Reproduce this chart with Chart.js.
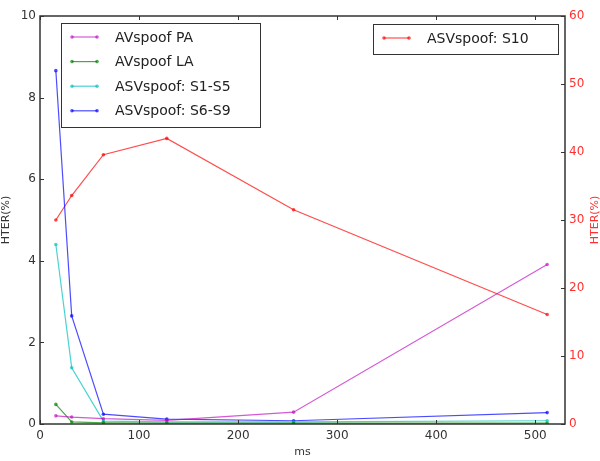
<!DOCTYPE html>
<html>
<head>
<meta charset="utf-8">
<script src="https://cdn.jsdelivr.net/npm/chart.js@4/dist/chart.umd.min.js"></script>
<style>
  html, body { margin: 0; padding: 0; background: #fff; }
  #wrap { width: 600px; height: 461px; }
</style>
</head>
<body>
<div id="wrap"><canvas id="chart"></canvas></div>
<script>
// window lengths (ms)
const windowMs = [16, 32, 64, 128, 256, 512];

// HTER (%) per attack set, left axis
const avspoofPA = [0.20, 0.17, 0.13, 0.09, 0.29, 3.91];
const avspoofLA = [0.48, 0.05, 0.03, 0.02, 0.02, 0.02];
const asvS1S5 = [4.40, 1.38, 0.07, 0.05, 0.05, 0.08];
const asvS6S9 = [8.66, 2.65, 0.24, 0.12, 0.08, 0.28];

// HTER (%) for S10, right axis
const asvS10 = [30.0, 33.6, 39.6, 42.0, 31.5, 16.1];

const xTicks = [0, 100, 200, 300, 400, 500];
const leftTicks = [0, 2, 4, 6, 8, 10];
const rightTicks = [0, 10, 20, 30, 40, 50, 60];

const FONT = "'DejaVu Sans', sans-serif";

function pts(ys) {
    return windowMs.map((x, i) => ({ x: x, y: ys[i] }));
}

function series(label, ys, color, axis) {
    return {
        label: label,
        data: pts(ys),
        borderColor: color,
        backgroundColor: color,
        borderWidth: 1.2,
        pointRadius: 1.8,
        pointBorderWidth: 0,
        yAxisID: axis,
        tension: 0
    };
}

// frame, inward ticks, right axis title and the two legend boxes
const decor = {
    id: "decor",
    afterDraw(chart) {
        const ctx = chart.ctx;
        const a = chart.chartArea;
        const sx = chart.scales.x, sy = chart.scales.y, sy2 = chart.scales.y2;
        ctx.save();
        ctx.strokeStyle = "#333";
        ctx.lineWidth = 1;
        // ticks
        ctx.beginPath();
        xTicks.forEach(v => {
            const px = Math.round(sx.getPixelForValue(v)) + 0.5;
            ctx.moveTo(px, a.bottom); ctx.lineTo(px, a.bottom - 4);
            ctx.moveTo(px, a.top); ctx.lineTo(px, a.top + 4);
        });
        leftTicks.forEach(v => {
            const py = Math.round(sy.getPixelForValue(v)) + 0.5;
            ctx.moveTo(a.left, py); ctx.lineTo(a.left + 4, py);
        });
        rightTicks.forEach(v => {
            const py = Math.round(sy2.getPixelForValue(v)) + 0.5;
            ctx.moveTo(a.right, py); ctx.lineTo(a.right - 4, py);
        });
        ctx.stroke();
        ctx.lineWidth = 1.5;
        ctx.strokeRect(a.left, a.top, a.right - a.left, a.bottom - a.top);

        // right axis title, reading upward like the left one
        ctx.save();
        ctx.translate(595, (a.top + a.bottom) / 2);
        ctx.rotate(-Math.PI / 2);
        ctx.font = "11px " + FONT;
        ctx.fillStyle = "#ff3030";
        ctx.textAlign = "center";
        ctx.textBaseline = "middle";
        ctx.fillText("HTER(%)", 0, 0);
        ctx.restore();

        // legends
        const ds = chart.data.datasets;
        function legend(items, x0, y0, w, h, rowH) {
            ctx.fillStyle = "#fff";
            ctx.fillRect(x0, y0, w, h);
            ctx.lineWidth = 1;
            ctx.strokeStyle = "#333";
            ctx.strokeRect(x0 + 0.5, y0 + 0.5, w, h);
            ctx.font = "14px " + FONT;
            ctx.textBaseline = "middle";
            ctx.textAlign = "left";
            items.forEach((d, i) => {
                const cy = y0 + 14 + i * rowH;
                ctx.strokeStyle = d.borderColor;
                ctx.lineWidth = 1.2;
                ctx.beginPath();
                ctx.moveTo(x0 + 11, cy); ctx.lineTo(x0 + 36, cy);
                ctx.stroke();
                ctx.fillStyle = d.borderColor;
                [x0 + 11, x0 + 36].forEach(px => {
                    ctx.beginPath(); ctx.arc(px, cy, 1.8, 0, Math.PI * 2); ctx.fill();
                });
                ctx.fillStyle = "#222";
                ctx.fillText(d.label, x0 + 54, cy + 1);
            });
        }
        legend(ds.slice(0, 4), 61, 23, 199, 104, 24.6);
        legend(ds.slice(4), 373, 24, 185, 30, 0);
        ctx.restore();
    }
};

new Chart(document.getElementById("chart"), {
    type: "line",
    data: {
        datasets: [
            series("AVspoof PA", avspoofPA, "rgba(191,0,191,0.65)", "y"),
            series("AVspoof LA", avspoofLA, "rgba(0,128,0,0.7)", "y"),
            series("ASVspoof: S1-S5", asvS1S5, "rgba(0,191,191,0.7)", "y"),
            series("ASVspoof: S6-S9", asvS6S9, "rgba(0,0,255,0.7)", "y"),
            series("ASVspoof: S10", asvS10, "rgba(255,0,0,0.7)", "y2")
        ]
    },
    options: {
        responsive: true,
        maintainAspectRatio: false,
        animation: false,
        layout: { padding: { top: 16, left: 0, right: 0, bottom: 0 } },
        plugins: { legend: { display: false }, tooltip: { enabled: false } },
        scales: {
            x: {
                type: "linear",
                min: 0,
                max: 530,
                afterFit: s => { s.height = 37; },
                afterBuildTicks: s => { s.ticks = xTicks.map(v => ({ value: v })); },
                grid: { display: false, drawTicks: false },
                border: { display: false },
                ticks: { color: "#333", font: { family: FONT, size: 12 }, padding: 5, maxRotation: 0 },
                title: { display: true, text: "ms", color: "#333", font: { family: FONT, size: 11 }, padding: { top: 0, bottom: 2 } }
            },
            y: {
                position: "left",
                min: 0,
                max: 10,
                afterFit: s => { s.width = 40; },
                afterBuildTicks: s => { s.ticks = leftTicks.map(v => ({ value: v })); },
                grid: { display: false, drawTicks: false },
                border: { display: false },
                ticks: { color: "#333", font: { family: FONT, size: 12 }, padding: 4 },
                title: { display: true, text: "HTER(%)", color: "#333", font: { family: FONT, size: 11 }, padding: { top: 0, bottom: 0 } }
            },
            y2: {
                position: "right",
                min: 0,
                max: 60,
                afterFit: s => { s.width = 35; },
                afterBuildTicks: s => { s.ticks = rightTicks.map(v => ({ value: v })); },
                grid: { display: false, drawTicks: false },
                border: { display: false },
                ticks: { color: "#ff3030", font: { family: FONT, size: 12 }, padding: 4 },
                title: { display: false }
            }
        }
    },
    plugins: [decor]
});
</script>
</body>
</html>
